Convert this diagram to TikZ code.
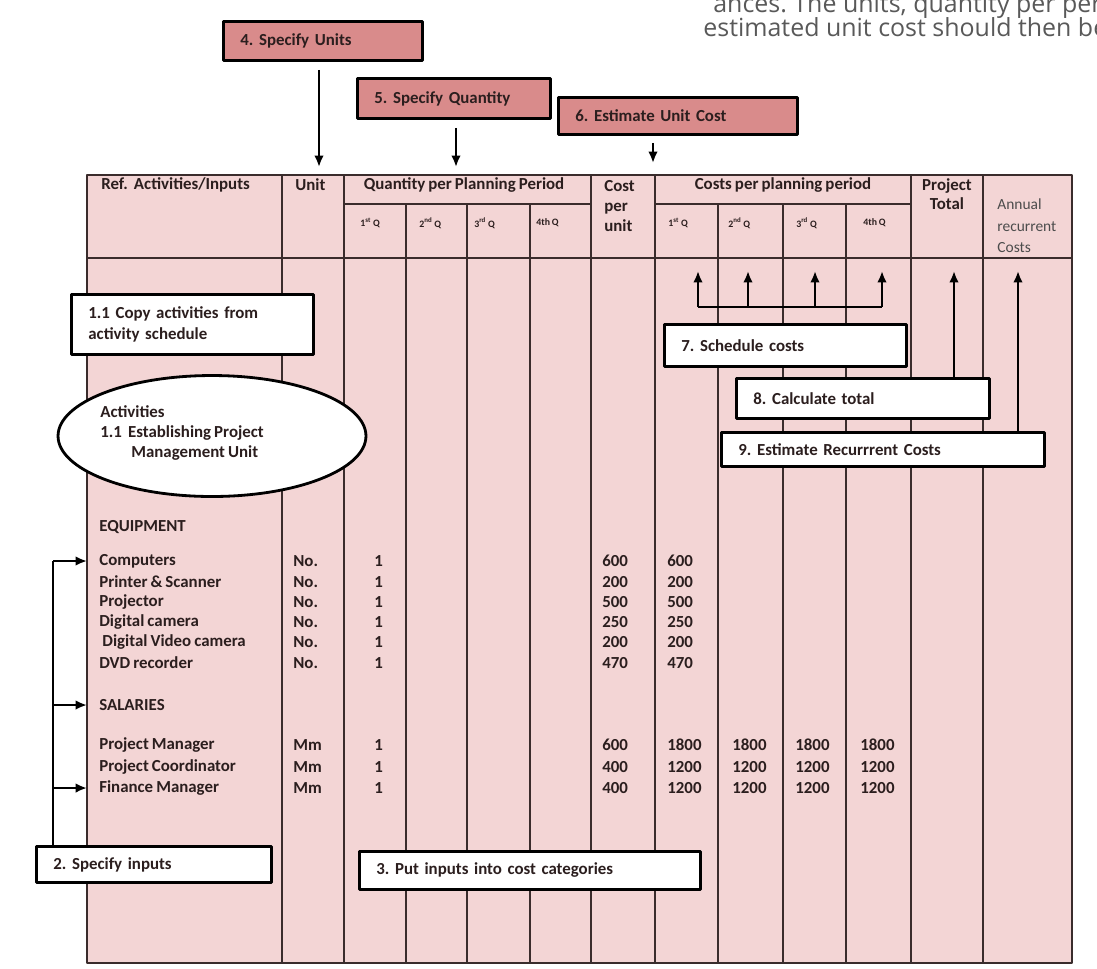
\documentclass[tikz,border=0pt]{standalone}
\usepackage{fontspec}
\setmainfont{Carlito}[WordSpace=0.8]
\newfontfamily\pagefont{Open Sans}
\usetikzlibrary{arrows.meta,shapes.geometric}
\definecolor{cellpink}{HTML}{F3D5D5}
\definecolor{tagrose}{HTML}{D98B8B}
\definecolor{rule}{HTML}{3A2C2C}
\definecolor{ink}{HTML}{2B1E1E}
\frenchspacing
\tikzset{
  cell/.style={inner sep=0pt, anchor=west, text=ink, font=\bfseries\fontsize{9.6}{11.6}\selectfont},
  tiny/.style={cell, font=\bfseries\fontsize{5.6}{7}\selectfont},
  note/.style={draw=black, line width=1.6pt, fill=white, anchor=north west, inner xsep=0.34cm, inner ysep=0pt, align=left, text=ink, font=\bfseries\fontsize{9.6}{11.6}\selectfont},
  tag/.style={note, fill=tagrose},
  tip/.style={-{Latex[length=6.5pt,width=5.5pt]}, line width=1.4pt},
  grid/.style={rule, line width=0.9pt},
  pagetext/.style={anchor=base west, inner sep=0pt, text=black!65, font=\pagefont\fontsize{14.2}{17}\selectfont}
}
\begin{document}
\begin{tikzpicture}[x=0.02cm, y=-0.02cm, line join=round]
\useasboundingbox (0,0) rectangle (1097,968);
% book text cut by the page edge
\node[pagetext] (txta) at (713,12) {ances. The units, quantity per per};
\node[pagetext] (txtb) at (703,36) {estimated unit cost should then be};

% budget sheet
\fill[cellpink] (87,175) rectangle (1072,963);
\draw[grid] (87,175) rectangle (1072,963) (87,258) -- (1072,258) (344,204) -- (591,204) (655,204) -- (911,204);
\foreach \x in {282,344,591,655,911,983} \draw[grid] (\x,175) -- (\x,963);
\foreach \x in {406,467,530,718,783,846} \draw[grid] (\x,204) -- (\x,963);

% header
\node[cell] (hdref) at (101,185) {Ref.\ \ Activities/Inputs};
\node[cell] (hdunit) at (295,185) {Unit};
\node[cell, anchor=center] (hdqty) at (464,185) {Quantity per Planning Period};
\node[cell, align=left] (hdcpu) at (604,206) {Cost\\per\\unit};
\node[cell, anchor=center] (hdcost) at (783,185) {Costs per planning period};
\node[cell, anchor=center, align=center, font=\bfseries\fontsize{9.6}{10.4}\selectfont] (hdtot) at (947,194) {Project\\Total};
\node[cell, align=left, text=black!70, font=\fontsize{8.8}{12.2}\selectfont] (hdann) at (997,226) {Annual\\recurrent\\Costs};
\foreach \x/\q [count=\i] in {360/1\textsuperscript{st}, 419/2\textsuperscript{nd}, 474/3\textsuperscript{rd}, 536/4th}
  \node[tiny] (qh\i) at (\x,223) {\q~Q};
\foreach \x/\q [count=\i] in {668/1\textsuperscript{st}, 728/2\textsuperscript{nd}, 796/3\textsuperscript{rd}, 863/4th}
  \node[tiny] (ch\i) at (\x,223) {\q~Q};

% inputs
\node[cell] (equip) at (99,527) {EQUIPMENT};
\foreach \y/\lab/\cpu [count=\i] in {561/Computers/600, 582/Printer \& Scanner/200, 602/Projector/500, 622/Digital camera/250, 642/\ Digital Video camera/200, 663/DVD recorder/470} {
  \node[cell] (eq\i) at (99,\y) {\lab};
  \node[cell] (equ\i) at (293,\y) {No.};
  \node[cell] (eqn\i) at (374,\y) {1};
  \node[cell] (eqc\i) at (602,\y) {\cpu};
  \node[cell] (eqq\i) at (667,\y) {\cpu};
}
\node[cell] (salhead) at (99,705) {SALARIES};
\foreach \y/\lab/\cpu/\qtr [count=\i] in {745/Project Manager/600/1800, 767/Project Coordinator/400/1200, 788/Finance Manager/400/1200} {
  \node[cell] (sa\i) at (99,\y) {\lab};
  \node[cell] (sau\i) at (293,\y) {Mm};
  \node[cell] (san\i) at (374,\y) {1};
  \node[cell] (sac\i) at (602,\y) {\cpu};
  \foreach \x [count=\j] in {667,732,795,860} \node[cell] (saq\i\j) at (\x,\y) {\qtr};
}

% step boxes
\node[tag, text width=3.30cm, minimum height=0.78cm] (units) at (222,20) {4. Specify Units};
\node[tag, text width=3.18cm, minimum height=0.80cm] (qty) at (356,77) {5. Specify Quantity};
\node[tag, text width=4.10cm, minimum height=0.74cm] (ucost) at (557,96) {6. Estimate Unit Cost};
\node[note, text width=4.16cm, minimum height=1.2cm] (copy) at (70,293) {1.1 Copy activities from\\activity schedule};
\node[draw=black, ellipse, line width=1.6pt, fill=white, minimum width=6.16cm, minimum height=2.42cm] (actshape) at (212,436) {};
\node[cell, align=left] (acttext) at (100,433) {Activities\\1.1\ \ Establishing Project\\\hspace{0.62cm}Management Unit};
\node[note, text width=4.16cm, minimum height=0.84cm] (sched) at (663,323) {7. Schedule costs};
\node[note, text width=4.38cm, minimum height=0.80cm] (total) at (735,377) {8. Calculate total};
\node[note, text width=5.78cm, minimum height=0.68cm] (recur) at (720,431) {9. Estimate Recurrrent Costs};
\node[note, text width=4.02cm, minimum height=0.72cm] (inputs) at (35,845) {2. Specify inputs};
\node[note, text width=6.14cm, minimum height=0.76cm] (categ) at (358,850) {3. Put inputs into cost categories};

% arrows into the header
\coordinate (unitin) at (319,167);
\coordinate (qtyin) at (456,167);
\coordinate (costin) at (653,163);
\draw[tip, shorten <=0.16cm] (units.south -| unitin) -- (unitin);
\draw[tip, shorten <=0.16cm] (qty.south -| qtyin) -- (qtyin);
\draw[tip, shorten <=0.14cm] (ucost.south -| costin) -- (costin);

% arrows up to the cost columns
\coordinate (ptot) at (954,271);
\coordinate (annrc) at (1018,271);
\draw[tip] (total.north -| ptot) -- (ptot);
\draw[tip] (recur.north -| annrc) -- (annrc);
\coordinate (brk) at (790,307);
\foreach \x [count=\i] in {698,748,815,882} \coordinate (sq\i) at (\x,271);
\draw[line width=1.4pt] (sq1 |- brk) -- (sq4 |- brk);
\foreach \i in {1,...,4} \draw[tip] (sq\i |- brk) -- (sq\i);

% inputs bracket
\coordinate (spine) at (53,0);
\draw[line width=1.4pt] (inputs.north -| spine) -- (spine |- eq1);
\foreach \n in {eq1,salhead,sa3} \draw[tip, shorten >=0.24cm] (spine |- \n) -- (\n.west);
\end{tikzpicture}
\end{document}
